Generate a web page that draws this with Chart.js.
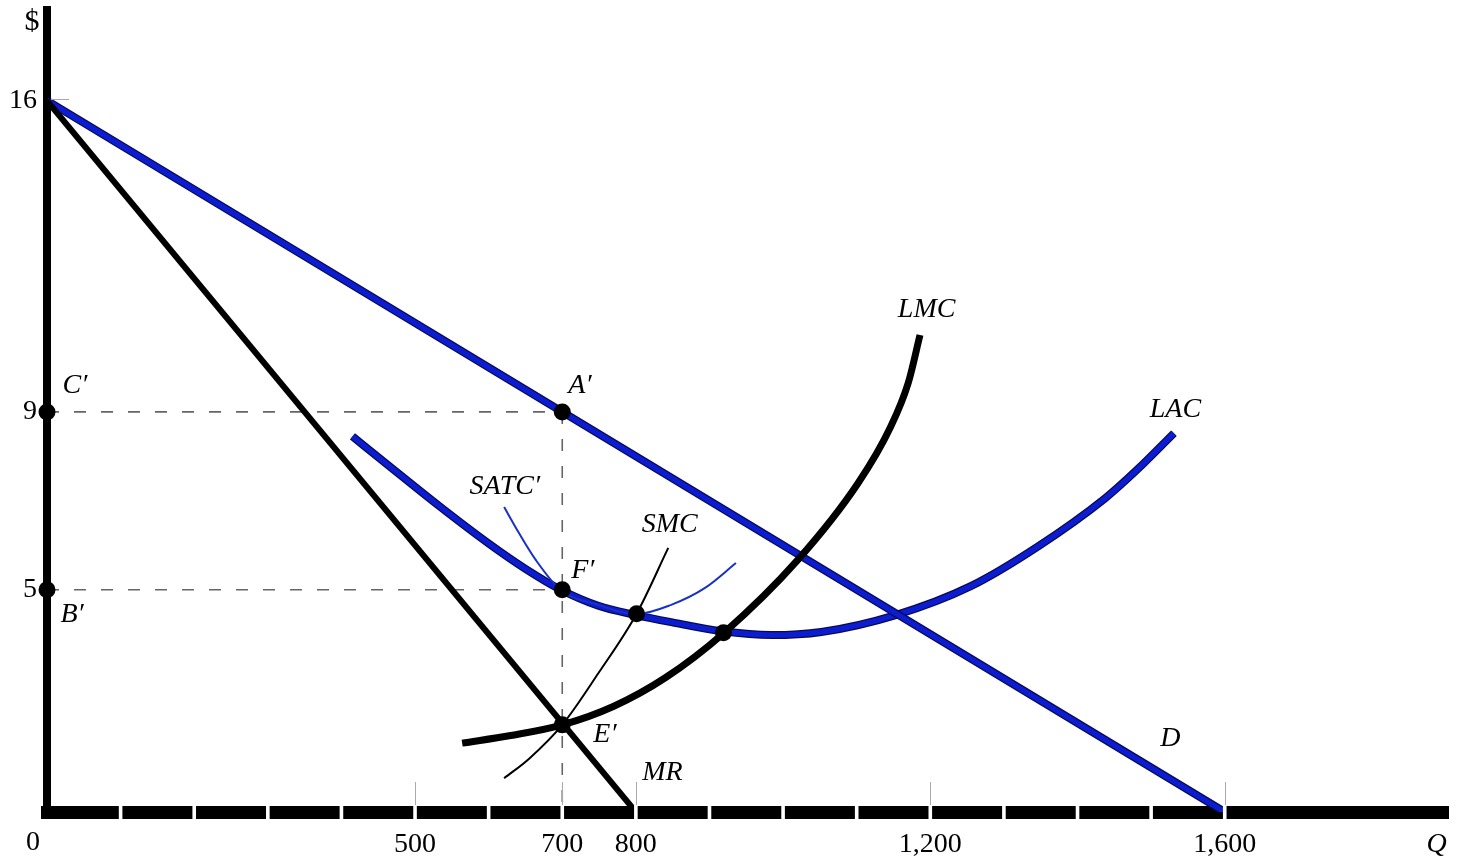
<!DOCTYPE html>
<html>
<head>
<meta charset="utf-8">
<script src="https://cdn.jsdelivr.net/npm/chart.js@4/dist/chart.umd.min.js"></script>
<style>
  html, body { margin: 0; padding: 0; background: #fff; }
</style>
</head>
<body>
<canvas id="monopolyChart" width="1457" height="862"></canvas>
<script>
// axis ticks
const xTicks = [500, 700, 800, 1200, 1600];
const yTicks = [16, 9, 5];

// demand and marginal revenue
const demandQ = [0, 1600];
const demandP = [16, 0];
const mrQ = [0, 800];
const mrP = [16, 0];

// long run cost curves
const lmcQ = [564, 630, 700, 770, 840, 919, 1020, 1102, 1146, 1170, 1186];
const lmcP = [1.55, 1.72, 1.96, 2.38, 3.02, 4.02, 5.67, 7.40, 8.66, 9.65, 10.73];
const lacQ = [415, 465, 533, 600, 650, 698, 749, 800, 848, 916, 984, 1052, 1153, 1255, 1346, 1437, 1481, 1531];
const lacP = [8.45, 7.78, 6.88, 6.04, 5.47, 5.0, 4.64, 4.43, 4.27, 4.07, 3.98, 4.05, 4.43, 5.08, 5.97, 7.05, 7.70, 8.52];

// short run cost curves
const satcQ = [621, 641, 664, 698, 749, 800, 848, 894, 936];
const satcP = [6.86, 6.28, 5.67, 4.99, 4.66, 4.45, 4.66, 5.04, 5.6];
const smcQ = [621, 655, 700, 749, 801, 844];
const smcP = [0.76, 1.2, 1.96, 3.12, 4.46, 5.94];

// guide lines at the chosen output
const guideQ = 700;
const guideP = [9, 5];

// marked points: C', B', A', F', E', SATC min, LAC/LMC
const pointQ = [0, 0, 700, 700, 700, 801, 919];
const pointP = [9, 5, 9, 5, 1.96, 4.46, 4.03];

const curveLabels = [
    { text: 'LMC', q: 1195, p: 11.29 },
    { text: 'LAC', q: 1533, p: 9.04 },
    { text: 'SATC\u2032', q: 622, p: 7.31 },
    { text: 'SMC', q: 846, p: 6.46 },
    { text: 'D', q: 1526, p: 1.66 },
    { text: 'MR', q: 836, p: 0.88 },
    { text: 'A\u2032', q: 724, p: 9.6 },
    { text: 'C\u2032', q: 38, p: 9.6 },
    { text: 'B\u2032', q: 34, p: 4.43 },
    { text: 'F\u2032', q: 728, p: 5.44 },
    { text: 'E\u2032', q: 758, p: 1.73 }
];

const xMax = 1904;
const yMax = 18.04;
const serif = "'Liberation Serif', 'Times New Roman', serif";

const pts = (xs, ys) => xs.map((q, i) => ({ x: q, y: ys[i] }));

function curve(data, color, width, order, extra) {
    return Object.assign({
        data: data,
        showLine: true,
        borderColor: color,
        borderWidth: width,
        pointRadius: 0,
        fill: false,
        cubicInterpolationMode: 'monotone',
        borderCapStyle: 'butt',
        borderJoinStyle: 'round',
        order: order
    }, extra || {});
}

const straight = { cubicInterpolationMode: 'default', tension: 0 };
const guideStyle = Object.assign({ borderDash: [12, 15] }, straight);

const figureText = {
    id: 'figureText',
    afterDatasetsDraw(chart) {
        const { ctx, chartArea, scales: { x, y } } = chart;
        ctx.save();

        // breaks in the quantity axis every 100 units
        ctx.fillStyle = '#fff';
        for (let q = 100; q <= 1600; q += 100) {
            const px = x.getPixelForValue(q);
            ctx.fillRect(px - 1.8, chartArea.bottom - 8, 3.6, 16);
        }
        // faint tick marks
        ctx.strokeStyle = '#aaa';
        ctx.lineWidth = 1;
        xTicks.forEach(q => {
            const px = Math.round(x.getPixelForValue(q)) + 0.5;
            ctx.beginPath();
            ctx.moveTo(px, chartArea.bottom - 30);
            ctx.lineTo(px, chartArea.bottom - 7);
            ctx.stroke();
        });
        const p16 = Math.round(y.getPixelForValue(16)) - 1.5;
        ctx.beginPath();
        ctx.moveTo(chartArea.left + 4, p16);
        ctx.lineTo(chartArea.left + 22, p16);
        ctx.stroke();

        ctx.fillStyle = '#000';
        ctx.textAlign = 'center';
        ctx.textBaseline = 'middle';
        ctx.font = 'italic 28px ' + serif;
        curveLabels.forEach(l => {
            ctx.fillText(l.text, x.getPixelForValue(l.q), y.getPixelForValue(l.p));
        });
        ctx.fillText('Q', chartArea.right - 12, chartArea.bottom + 33);

        ctx.font = '30px ' + serif;
        ctx.fillText('$', chartArea.left - 15, chartArea.top + 12);
        ctx.font = '28px ' + serif;
        ctx.fillText('0', chartArea.left - 14, chartArea.bottom + 31);
        ctx.restore();
    }
};

const blueEdge = '#0a0a50';
const blueCore = '#0c1cd0';

new Chart(document.getElementById('monopolyChart'), {
    type: 'scatter',
    data: {
        datasets: [
            curve(pts([0, guideQ], [guideP[0], guideP[0]]), '#666', 1.6, 20, guideStyle),
            curve(pts([0, guideQ], [guideP[1], guideP[1]]), '#666', 1.6, 20, guideStyle),
            curve(pts([guideQ, guideQ], [guideP[0], 0]), '#666', 1.6, 20, guideStyle),
            curve(pts(lacQ, lacP), blueEdge, 8, 12),
            curve(pts(lacQ, lacP), blueCore, 5.5, 11),
            curve(pts(demandQ, demandP), blueEdge, 8, 10, straight),
            curve(pts(demandQ, demandP), blueCore, 5.5, 9, straight),
            curve(pts(satcQ, satcP), '#1a30c8', 2, 8),
            curve(pts(smcQ, smcP), '#000', 2, 7),
            curve(pts(mrQ, mrP), '#000', 6, 6, straight),
            curve(pts(lmcQ, lmcP), '#000', 7, 5),
            {
                data: pts(pointQ, pointP),
                pointRadius: 8.5,
                pointBackgroundColor: '#000',
                pointBorderWidth: 0,
                clip: false,
                order: 0
            }
        ]
    },
    options: {
        responsive: false,
        animation: false,
        devicePixelRatio: 1,
        layout: { padding: { top: 10, right: 5, left: 0, bottom: 0 } },
        plugins: {
            legend: { display: false },
            tooltip: { enabled: false }
        },
        scales: {
            x: {
                type: 'linear',
                min: 0,
                max: xMax,
                afterBuildTicks: s => { s.ticks = xTicks.map(v => ({ value: v })); },
                afterFit: s => { s.height = 50; s.paddingLeft = 0; s.paddingRight = 0; },
                grid: { display: false, drawTicks: false },
                border: { display: true, color: '#000', width: 13 },
                ticks: {
                    color: '#000',
                    padding: 16,
                    font: { family: serif, size: 28 },
                    callback: v => v.toLocaleString('en-US')
                }
            },
            y: {
                type: 'linear',
                min: 0,
                max: yMax,
                afterBuildTicks: s => { s.ticks = yTicks.map(v => ({ value: v })); },
                afterFit: s => { s.width = 47; s.paddingTop = 0; s.paddingBottom = 0; },
                grid: { display: false, drawTicks: false },
                border: { display: true, color: '#000', width: 8 },
                ticks: {
                    color: '#000',
                    padding: 10,
                    font: { family: serif, size: 28 }
                }
            }
        }
    },
    plugins: [figureText]
});
</script>
</body>
</html>
